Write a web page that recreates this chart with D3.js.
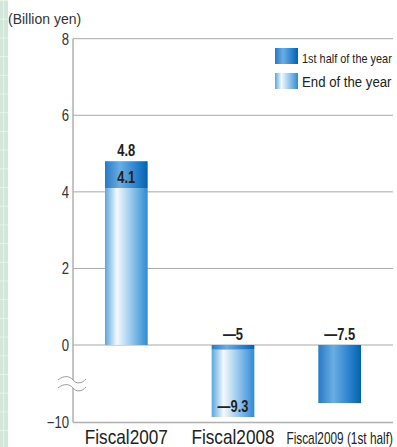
<!DOCTYPE html>
<html>
<head>
<meta charset="utf-8">
<script src="https://cdn.jsdelivr.net/npm/d3@7"></script>
<style>
  body { margin: 0; background: #fff; }
  text { font-family: "Liberation Sans", Arial, sans-serif; fill: #222; }
</style>
</head>
<body>
<svg id="chart" width="397" height="447"></svg>
<script>
const categories = ['Fiscal2007', 'Fiscal2008', 'Fiscal2009 (1st half)'];
// bar segments [from, to] as drawn on the (broken) axis
const firstHalf = [[4.1, 4.8], [0, -0.6], [0, -7.5]];
const endOfYear = [[0, 4.1], [-0.6, -9.3], null];
const topLabels = ['4.8', '\u20145', '\u20147.5'];
const innerLabels = [{ v: 4.1, t: '4.1' }, { v: -9.3, t: '\u20149.3' }, null];
const yTicks = [8, 6, 4, 2, 0, -10];
const legendItems = ['1st half of the year', 'End of the year'];

const svg = d3.select('#chart');
const x0 = 73, x1 = 393;

// squeeze text horizontally (the original uses a condensed face)
const condense = (sel, k) => sel.each(function () {
    const t = d3.select(this);
    const tx = +t.attr('x') || 0, ty = +t.attr('y') || 0;
    t.attr('x', 0).attr('y', 0).attr('transform', `translate(${tx},${ty}) scale(${k},1)`);
});

// polylinear scale: below zero the axis is compressed (axis break)
const y = d3.scaleLinear().domain([-10, 0, 8]).range([422.5, 345, 38.7]);
const x = d3.scaleBand().domain(categories).range([x0, x1]).paddingInner(0.6).paddingOuter(0.3);

const defs = svg.append('defs');

// left green strip
const pat = defs.append('pattern').attr('id', 'strip').attr('patternUnits', 'userSpaceOnUse')
    .attr('width', 9).attr('height', 18.7);
pat.append('rect').attr('width', 9).attr('height', 18.7).attr('fill', '#d2e6da');
pat.append('rect').attr('x', 3).attr('width', 0.8).attr('height', 18.7).attr('fill', '#eef6f1');
pat.append('rect').attr('y', 0).attr('width', 9).attr('height', 0.8).attr('fill', '#eef6f1');
svg.append('rect').attr('x', 0).attr('y', 0).attr('width', 8).attr('height', 447).attr('fill', 'url(#strip)');

const gDark = defs.append('linearGradient').attr('id', 'gDark');
[[0, '#2779c6'], [0.35, '#6aaee2'], [0.7, '#2f85cf'], [1, '#0362ae']].forEach(s =>
    gDark.append('stop').attr('offset', s[0]).attr('stop-color', s[1]));
const gLight = defs.append('linearGradient').attr('id', 'gLight');
[[0, '#5aa6de'], [0.28, '#f4f9fe'], [0.6, '#9ccaee'], [1, '#2f8ad4']].forEach(s =>
    gLight.append('stop').attr('offset', s[0]).attr('stop-color', s[1]));

// gridlines
svg.append('g').selectAll('line').data(yTicks.filter(d => d >= 0)).join('line')
    .attr('x1', x0).attr('x2', x1).attr('y1', d => y(d)).attr('y2', d => y(d))
    .attr('stroke', '#a8a8a8').attr('stroke-width', 1);
svg.append('line').attr('x1', x0).attr('x2', x1).attr('y1', y(-10)).attr('y2', y(-10))
    .attr('stroke', '#b0b0b0').attr('stroke-width', 1.5);
svg.append('line').attr('x1', x0).attr('x2', x0).attr('y1', y(8)).attr('y2', y(-10))
    .attr('stroke', '#b0b0b0').attr('stroke-width', 1.5);

// tick labels
svg.append('g').selectAll('text').data(yTicks).join('text')
    .attr('x', 69).attr('y', d => y(d) + 5.8)
    .attr('text-anchor', 'end')
    .style('font-size', '16px').style('fill', '#333')
    .text(d => d < 0 ? '\u2212' + Math.abs(d) : d)
    .call(condense, 0.82);

svg.append('text').attr('x', 8).attr('y', 24)
    .style('font-size', '14px').style('fill', '#333')
    .text('(Billion yen)');

// axis break
const brk = svg.append('g');
brk.append('rect').attr('x', 68).attr('y', 380).attr('width', 10).attr('height', 8).attr('fill', '#fff');
[380, 388].forEach(yy => {
    brk.append('path')
        .attr('d', `M58,${yy} C64,${yy - 5} 70,${yy - 4} 73,${yy} S82,${yy + 4} 86,${yy - 1}`)
        .attr('fill', 'none').attr('stroke', '#999').attr('stroke-width', 1);
});

// bars
const bars = svg.append('g');
categories.forEach((c, i) => {
    if (endOfYear[i]) {
        const s = endOfYear[i];
        bars.append('rect').attr('x', x(c)).attr('width', x.bandwidth())
            .attr('y', y(Math.max(s[0], s[1]))).attr('height', Math.abs(y(s[0]) - y(s[1])))
            .attr('fill', 'url(#gLight)');
    }
    const s = firstHalf[i];
    bars.append('rect').attr('x', x(c)).attr('width', x.bandwidth())
        .attr('y', y(Math.max(s[0], s[1]))).attr('height', Math.abs(y(s[0]) - y(s[1])))
        .attr('fill', 'url(#gDark)');
});

// value labels
const barTop = i => {
    const vals = [firstHalf[i], endOfYear[i]].filter(Boolean).flat();
    return y(Math.max(0, d3.max(vals)));
};
svg.append('g').selectAll('text').data(categories).join('text')
    .attr('x', d => x(d) + x.bandwidth() / 2)
    .attr('y', (d, i) => barTop(i) - 5)
    .attr('text-anchor', 'middle').style('font-weight', 'bold').style('font-size', '17px')
    .text((d, i) => topLabels[i])
    .call(condense, 0.76);
svg.append('g').selectAll('text').data(categories.filter((d, i) => innerLabels[i])).join('text')
    .attr('x', d => x(d) + x.bandwidth() / 2)
    .attr('y', d => y(innerLabels[categories.indexOf(d)].v) - 5)
    .attr('text-anchor', 'middle').style('font-weight', 'bold').style('font-size', '17px')
    .text(d => innerLabels[categories.indexOf(d)].t)
    .call(condense, 0.76);

// category labels
svg.append('g').selectAll('text').data(categories).join('text')
    .attr('x', d => x(d) + x.bandwidth() / 2)
    .attr('y', 444)
    .attr('text-anchor', 'middle')
    .style('font-size', (d, i) => i === 2 ? '16px' : '20px')
    .text(d => d)
    .each(function (d, i) { d3.select(this).call(condense, i === 2 ? 0.74 : 0.86); });

// legend
const leg = svg.append('g');
legendItems.forEach((t, i) => {
    leg.append('rect').attr('x', 275).attr('y', 48 + i * 25).attr('width', 23).attr('height', 16)
        .attr('fill', i === 0 ? 'url(#gDark)' : 'url(#gLight)');
    leg.append('text').attr('x', 302).attr('y', 63 + i * 24)
        .style('font-size', i === 0 ? '13px' : '14.5px').text(t)
        .call(condense, i === 0 ? 0.84 : 0.91);
});
</script>
</body>
</html>
